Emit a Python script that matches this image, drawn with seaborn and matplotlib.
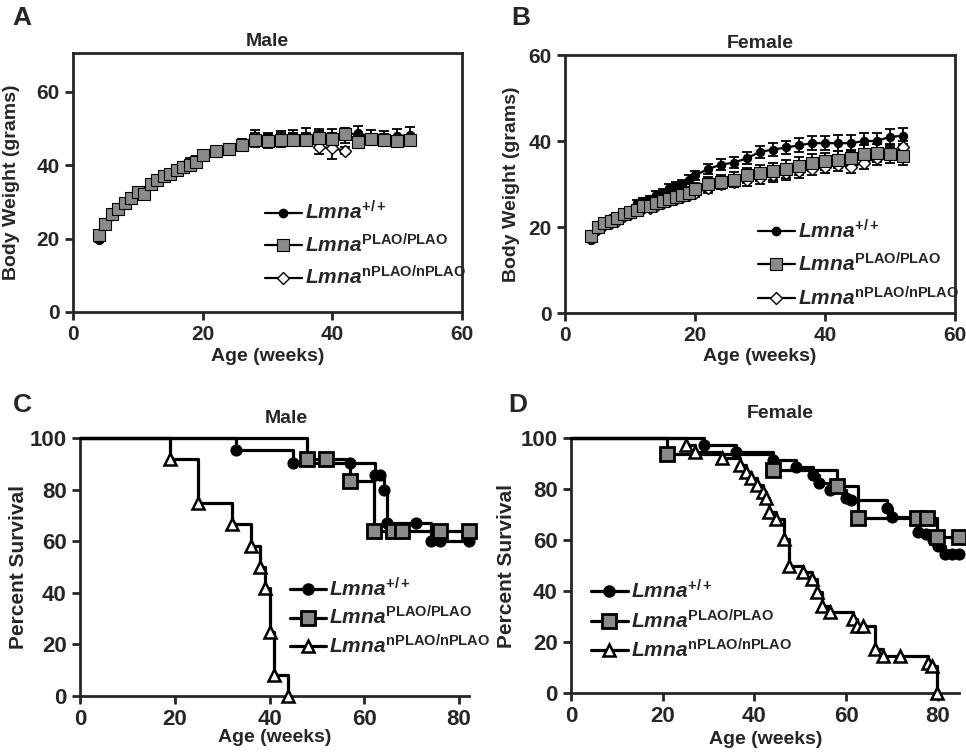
import pandas as pd
import seaborn as sns
import matplotlib.pyplot as plt
from matplotlib.lines import Line2D

# Datos: peso corporal (semanas)
weeks = [4, 5, 6, 7, 8, 9, 10, 11, 12, 13, 14, 15, 16, 17, 18, 19, 20,
         22, 24, 26, 28, 30, 32, 34, 36, 38, 40, 42, 44, 46, 48, 50, 52]

male_wt = [19.6, 23.6, 26.2, 28, 29.6, 31, 32.6, 33, 35, 36, 37, 38, 39, 40, 41, 41.5, 42.6,
           44, 44.6, 45.6, 47, 47, 47.5, 47.5, 48, 48, 48, 48.2, 48.8, 47.6, 47.6, 48, 48.2]
male_wt_sem = [0.5, 0.6, 0.6, 0.6, 0.6, 0.7, 0.7, 0.7, 0.8, 0.8, 0.8, 0.9, 0.9, 0.9, 1.0, 1.0, 1.1,
               1.2, 1.3, 1.5, 1.8, 1.8, 1.8, 2.0, 2.2, 2.0, 2.0, 2.0, 2.0, 2.0, 1.8, 2.0, 2.2]
male_plao = [20.9, 24.1, 26.8, 28, 29.7, 31, 32.7, 32.2, 35, 36, 37, 37.5, 38.6, 39.5, 40, 41, 42.7,
             44, 44.3, 45.5, 46.8, 46.6, 47, 47, 47, 47.5, 47.2, 48.6, 46.4, 47.2, 47, 46.6, 46.8]
male_plao_sem = [0.5, 0.6, 0.6, 0.6, 0.6, 0.7, 0.7, 0.7, 0.8, 0.8, 0.8, 0.9, 0.9, 0.9, 1.0, 1.0, 1.1,
                 1.2, 1.4, 1.6, 1.8, 1.8, 1.8, 1.8, 1.8, 1.8, 1.6, 1.6, 1.6, 1.4, 1.4, 1.4, 1.4]
weeks_male_nplao = [28, 30, 32, 34, 36, 38, 40, 42]
male_nplao = [47.5, 47, 46.5, 47, 47, 45, 44.6, 44]
male_nplao_sem = [2.0, 1.5, 1.5, 1.5, 1.5, 2.0, 3.0, 1.0]

female_wt = [17, 20, 21, 22, 22.5, 23, 24, 25.5, 26, 26.5, 27.5, 28, 29, 29.5, 30, 31, 32,
             33.5, 34.5, 35, 36, 37.5, 38, 38.5, 39, 39.5, 39.5, 39.5, 39.5, 40, 40, 41, 41.2]
female_wt_sem = [0.5, 0.6, 0.6, 0.6, 0.6, 0.7, 0.7, 0.7, 0.8, 0.8, 0.8, 0.9, 0.9, 0.9, 1.0, 1.0, 1.1,
                 1.2, 1.3, 1.3, 1.4, 1.4, 1.5, 1.5, 1.6, 1.6, 1.7, 1.8, 1.8, 1.8, 1.8, 1.8, 1.8]
female_plao = [18, 20, 21, 21.5, 22, 23, 23.5, 24, 25, 25, 25.5, 26, 26.5, 27, 27.5, 28, 28.8,
               30, 30.5, 31, 32, 32.5, 33, 33.5, 34.2, 35, 35.3, 35.7, 36, 37, 37.2, 37, 36.6]
female_plao_sem = [0.6, 0.7, 0.8, 0.8, 0.8, 0.9, 0.9, 1.0, 1.0, 1.0, 1.1, 1.1, 1.2, 1.2, 1.3, 1.3, 1.4,
                   1.6, 1.7, 1.7, 1.8, 1.9, 2.0, 2.0, 2.0, 2.0, 2.0, 2.0, 2.0, 2.0, 2.0, 2.0, 2.2]
female_nplao = [17.5, 19.5, 20.5, 21, 21.5, 22.5, 23, 24, 24.5, 24.5, 25, 25.5, 26, 26.5, 27, 27.5, 28,
                29, 30, 30.5, 31, 31.5, 32, 32.5, 33, 33.5, 34, 34.5, 34, 35, 36, 37, 38.5]
female_nplao_sem = [0.5, 0.6, 0.6, 0.6, 0.6, 0.7, 0.7, 0.7, 0.8, 0.8, 0.8, 0.9, 0.9, 0.9, 1.0, 1.0, 1.1,
                    1.2, 1.2, 1.3, 1.4, 1.4, 1.5, 1.5, 1.5, 1.5, 1.5, 1.5, 1.5, 1.5, 1.5, 1.5, 1.5]

# Datos: supervivencia (Kaplan-Meier)
c_wt_t = [0, 33, 45, 57, 62.3, 63.3, 64.2, 64.8, 71, 74, 76, 82]
c_wt_s = [100, 95.2, 90.5, 90.5, 85.7, 85.7, 80, 67, 67, 60, 60, 60]
c_plao_t = [0, 48, 52, 57, 62, 66, 68, 76, 82]
c_plao_s = [100, 91.7, 91.7, 83.3, 64, 64, 64, 64, 64]
c_nplao_t = [0, 19, 25, 32, 36, 38, 39, 40, 41, 44]
c_nplao_s = [100, 91.7, 75, 66.7, 58.3, 50, 41.7, 25, 8.3, 0]

d_wt_t = [0, 29, 36, 44, 49, 52.8, 54, 56.5, 60, 61, 68.8, 70, 75.6, 77.5, 79, 80, 81.5, 83, 84.5]
d_wt_s = [100, 97.4, 94.7, 91.5, 88.6, 85.5, 82.3, 79.6, 76.5, 75.7, 72.5, 69.2, 63, 62.5, 60, 57.5,
          54.5, 54.5, 54.5]
d_plao_t = [0, 21, 44, 58, 62.6, 75.5, 77.7, 79.7, 84.5]
d_plao_s = [100, 93.8, 87.5, 81.3, 68.8, 68.8, 68.8, 61, 61]
d_nplao_t = [0, 25, 27, 33, 36.8, 38.2, 39.3, 40.5, 41.8, 42.5, 43.1, 44.7, 46.5, 47.6, 50.5, 52.5,
             53.6, 54.7, 56.5, 61.5, 62.3, 63.7, 66.3, 68, 71.7, 77.8, 78.7, 79.8]
d_nplao_s = [100, 97.4, 94.7, 92.1, 89.5, 86.8, 84.2, 81.6, 78.9, 76.3, 71.1, 68.4, 60.5, 50, 47.4,
             44.7, 39.5, 34.2, 31.6, 28.9, 26.3, 26.3, 17.1, 14.5, 14.5, 11.8, 10.5, 0]

groups = [r'$\mathit{Lmna}^{\mathrm{+/+}}$',
          r'$\mathit{Lmna}^{\mathrm{PLAO/PLAO}}$',
          r'$\mathit{Lmna}^{\mathrm{nPLAO/nPLAO}}$']

sns.set_style('ticks')
plt.rcParams['font.family'] = ['Liberation Sans', 'DejaVu Sans']
plt.rcParams['font.weight'] = 'bold'
plt.rcParams['axes.labelweight'] = 'bold'
plt.rcParams['mathtext.fontset'] = 'custom'
plt.rcParams['mathtext.rm'] = 'Liberation Sans:bold'
plt.rcParams['mathtext.it'] = 'Liberation Sans:italic:bold'
plt.rcParams['mathtext.bf'] = 'Liberation Sans:bold'

gray = '#8a8a8a'
sty_w = [dict(marker='o', markersize=6, markerfacecolor='black', markeredgecolor='black'),
         dict(marker='s', markersize=8, markerfacecolor=gray, markeredgecolor='black', markeredgewidth=0.8),
         dict(marker='D', markersize=6.5, markerfacecolor='white', markeredgecolor='black', markeredgewidth=1)]
sty_s = [dict(marker='o', markersize=8, markerfacecolor='black', markeredgecolor='black'),
         dict(marker='s', markersize=9.5, markerfacecolor=gray, markeredgecolor='black', markeredgewidth=2),
         dict(marker='^', markersize=9, markerfacecolor='white', markeredgecolor='black', markeredgewidth=1.8)]

fig = plt.figure(figsize=(9.66, 7.53), dpi=100)
axA = fig.add_axes([0.0756, 0.5857, 0.4027, 0.3439])
axB = fig.add_axes([0.5849, 0.5843, 0.4037, 0.3426])
axC = fig.add_axes([0.0828, 0.0757, 0.4022, 0.3426])
axD = fig.add_axes([0.5911, 0.0797, 0.4012, 0.3386])


def weight_panel(ax, series, title, ylim):
    # series: (x, y, sem, estilo) en orden de dibujo
    for x, y, e, st in series:
        ax.errorbar(x, y, yerr=e, fmt='none', ecolor='black', elinewidth=1.3, capsize=3.5,
                    capthick=1.3, zorder=2)
        sns.lineplot(x=x, y=y, ax=ax, color='black', lw=1.6, estimator=None, zorder=3, **st)
    ax.set_xlim(0, 60)
    ax.set_ylim(*ylim)
    ax.set_xticks([0, 20, 40, 60])
    ax.set_yticks([0, 20, 40, 60])
    for s in ax.spines.values():
        s.set_linewidth(2)
    ax.set_title(title, fontsize=14, fontweight='bold', pad=5)
    ax.set_xlabel('Age (weeks)', fontsize=14)
    ax.set_ylabel('Body Weight (grams)', fontsize=14)
    ax.tick_params(labelsize=15)


def surv_panel(ax, series, title, xmax):
    for t, s, st in series:
        sns.lineplot(x=t, y=s, ax=ax, color='black', lw=2.3, drawstyle='steps-post', estimator=None,
                     sort=False, markevery=list(range(1, len(t))), clip_on=False, zorder=3, **st)
    ax.set_xlim(0, xmax)
    ax.set_ylim(0, 100)
    ax.set_xticks([0, 20, 40, 60, 80])
    ax.set_yticks([0, 20, 40, 60, 80, 100])
    sns.despine(ax=ax)
    for k in ['left', 'bottom']:
        ax.spines[k].set_linewidth(2)
    ax.set_xlabel('Age (weeks)', fontsize=14)
    ax.set_ylabel('Percent Survival', fontsize=15)
    ax.tick_params(labelsize=16)
    ax.text(0.53, 1.075, title, transform=ax.transAxes, ha='center', va='center',
            fontsize=14, fontweight='bold')


weight_panel(axA, [(weeks, male_wt, male_wt_sem, sty_w[0]),
                   (weeks_male_nplao, male_nplao, male_nplao_sem, sty_w[2]),
                   (weeks, male_plao, male_plao_sem, sty_w[1])], 'Male', (0, 70.6))
weight_panel(axB, [(weeks, female_wt, female_wt_sem, sty_w[0]),
                   (weeks, female_nplao, female_nplao_sem, sty_w[2]),
                   (weeks, female_plao, female_plao_sem, sty_w[1])], 'Female', (0, 60))
surv_panel(axC, [(c_wt_t, c_wt_s, sty_s[0]), (c_plao_t, c_plao_s, sty_s[1]),
                 (c_nplao_t, c_nplao_s, sty_s[2])], 'Male', 82)
surv_panel(axD, [(d_wt_t, d_wt_s, sty_s[0]), (d_plao_t, d_plao_s, sty_s[1]),
                 (d_nplao_t, d_nplao_s, sty_s[2])], 'Female', 84.5)
axD.texts[0].set_position((0.54, 1.095))

for ax in [axA, axB, axC, axD]:
    ax.tick_params(direction='out', length=6, width=2)
    for lab in ax.get_xticklabels() + ax.get_yticklabels():
        lab.set_fontweight('bold')

axA.yaxis.set_label_coords(-0.136, 0.5)
axB.yaxis.set_label_coords(-0.115, 0.5)
axC.yaxis.set_label_coords(-0.134, 0.5)
axD.yaxis.set_label_coords(-0.142, 0.5)
axA.xaxis.set_label_coords(0.5, -0.139)
axB.xaxis.set_label_coords(0.5, -0.136)
axC.xaxis.set_label_coords(0.5, -0.128)
axD.xaxis.set_label_coords(0.503, -0.149)


def legend(ax, styles, lw, anchor, spacing):
    hs = [Line2D([], [], color='black', lw=lw, **st) for st in styles]
    ax.legend(hs, groups, loc='upper left', bbox_to_anchor=anchor, frameon=False,
              fontsize=15, handlelength=1.75, handletextpad=0.15, labelspacing=spacing,
              borderpad=0, borderaxespad=0)


legend(axA, sty_w, 1.6, (0.494, 0.43), 0.45)
legend(axB, sty_w, 1.6, (0.495, 0.365), 0.5)
legend(axC, sty_s, 2.3, (0.54, 0.46), 0.25)
legend(axD, sty_s, 2.3, (0.052, 0.445), 0.3)

for lbl, x, y in [('A', 0.013, 0.992), ('B', 0.529, 0.992), ('C', 0.013, 0.478), ('D', 0.526, 0.478)]:
    fig.text(x, y, lbl, fontsize=19, fontweight='bold', ha='left', va='top')

plt.savefig('out.png', dpi=100)
